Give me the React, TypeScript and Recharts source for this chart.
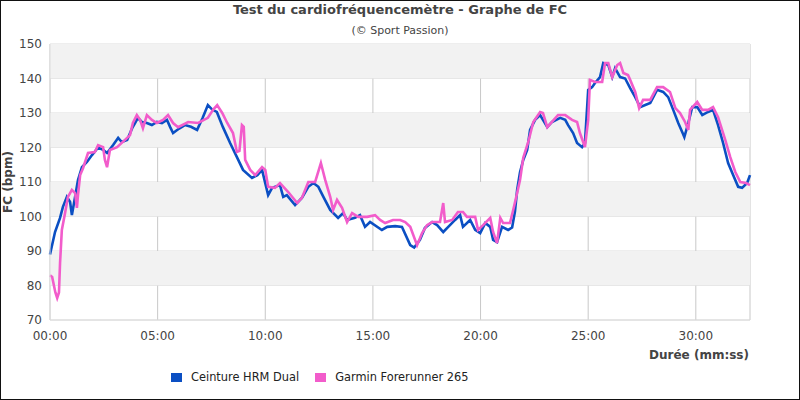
import {
  CartesianGrid,
  Legend,
  Line,
  LineChart,
  ReferenceArea,
  XAxis,
  YAxis,
} from "recharts";

// time in seconds, heart rate in bpm
const blueTimes = [
  0, 14, 28, 36, 47, 56, 61, 70, 78, 89, 103, 117, 134, 148, 159, 176, 190, 200,
  215, 229, 237, 245, 256, 270, 284, 298, 312, 326, 335, 343, 360, 376, 393, 410,
  425, 440, 452, 465, 482, 502, 521, 538, 563, 578, 591, 608, 619, 641, 650, 660,
  683, 702, 720, 734, 748, 762, 781, 803, 817, 828, 850, 864, 878, 892, 925, 940,
  962, 981, 1004, 1015, 1031, 1045, 1065, 1079, 1096, 1110, 1129, 1143, 1151,
  1171, 1185, 1199, 1213, 1227, 1235, 1246, 1260, 1277, 1288, 1296, 1302, 1310,
  1319, 1330, 1338, 1352, 1366, 1374, 1386, 1399, 1422, 1436, 1444, 1458, 1469,
  1483, 1491, 1500, 1511, 1519, 1533, 1542, 1556, 1567, 1575, 1589, 1603, 1617,
  1631, 1645, 1659, 1673, 1692, 1709, 1723, 1737, 1751, 1762, 1768, 1779, 1790,
  1804, 1818, 1834, 1848, 1862, 1876, 1890, 1904, 1918, 1929, 1943, 1951,
];
const blueValues = [
  89, 95.5, 99.6, 102.8, 105.7, 104.2, 100.4, 105.7, 110.6, 114.3, 115.8, 117.8,
  120, 119.3, 118.4, 120.7, 122.8, 121.6, 122.2, 125.6, 127.1, 128.6, 127.4,
  127.1, 126.5, 127.4, 127.1, 128, 125.9, 124.2, 125.5, 126.5, 126, 125.1, 128.5,
  132.3, 131, 130.3, 125.9, 121.3, 117.2, 113.5, 111.2, 112, 113.5, 106.2, 108.3,
  109.1, 105.7, 106.2, 103.3, 105.4, 108.6, 109.7, 108.6, 105.7, 101.9, 99.6, 101,
  99, 99.6, 100.4, 97, 98.4, 96.1, 97, 97.2, 97, 91.7, 91, 93.2, 96.7, 98.4, 97.5,
  95.5, 97, 99, 100.4, 97, 99, 96.1, 95.2, 98.1, 97, 93.2, 92.6, 97, 96.1, 96.8,
  101.5, 107.7, 112.8, 116.4, 119.3, 125.1, 128, 129.4, 128, 125.9, 127.4, 128.6,
  128, 126.5, 124.2, 121.3, 120.1, 121.3, 136.7, 137.5, 138.7, 140.4, 144.5,
  143.9, 140.4, 143, 140.4, 140, 137.2, 134.6, 131.7, 132.3, 132.9, 136.7, 136.1,
  134.6, 130.9, 127.1, 124.5, 123, 127.1, 131.7, 131.7, 129.4, 130.3, 130.9,
  126.5, 121.3, 115.5, 112, 108.6, 108.3, 109.7, 112,
];

const pinkTimes = [
  0, 6, 15, 20, 25, 28, 33, 42, 50, 61, 70, 75, 78, 84, 92, 106, 125, 134, 148,
  153, 159, 167, 187, 209, 223, 231, 242, 251, 259, 270, 284, 298, 315, 329, 343,
  357, 385, 413, 440, 455, 466, 480, 494, 510, 521, 528, 535, 540, 544, 558, 572,
  591, 600, 608, 627, 641, 664, 689, 702, 720, 739, 755, 767, 781, 789, 800, 814,
  828, 842, 859, 884, 906, 920, 934, 956, 976, 990, 1004, 1023, 1037, 1051, 1065,
  1087, 1096, 1101, 1121, 1137, 1151, 1162, 1185, 1193, 1207, 1227, 1235, 1246,
  1255, 1263, 1282, 1291, 1302, 1310, 1319, 1333, 1347, 1366, 1374, 1386, 1399,
  1416, 1436, 1455, 1469, 1477, 1491, 1500, 1505, 1519, 1539, 1547, 1556, 1567,
  1581, 1589, 1598, 1611, 1617, 1631, 1642, 1653, 1673, 1692, 1709, 1728, 1743,
  1756, 1770, 1779, 1784, 1804, 1818, 1834, 1848, 1862, 1882, 1896, 1910, 1924,
  1940, 1951,
];
const pinkValues = [
  83, 82.5, 78, 76.4, 78, 86.5, 96.1, 101, 105.7, 107.7, 106.8, 102.5, 106.2, 112,
  114, 118.4, 118.7, 120.7, 120.1, 116.4, 114.3, 119.3, 120.1, 122.2, 123.6,
  127.1, 129.4, 128, 125.6, 129.4, 128, 127.1, 128, 129.4, 127.1, 125.9, 127.4,
  127.1, 128.6, 131, 132.3, 130, 127.1, 124.2, 118.7, 119, 126.5, 126, 116.4,
  113.5, 112, 114.3, 113.5, 108.6, 108.3, 109.7, 107.1, 103.9, 105.4, 110, 110,
  115.5, 110.6, 105.7, 101.9, 104.8, 102.5, 98.4, 101, 99.9, 99.9, 100.4, 99,
  98.1, 99, 99, 98.4, 97, 91.7, 95.2, 97.5, 98.4, 98.4, 103.9, 98.4, 99, 101.3,
  101.3, 99.9, 99.9, 96.1, 97.5, 99.6, 95.5, 92.3, 99.6, 98.1, 98.1, 101.9, 106.8,
  110.6, 117, 121.6, 127.4, 130.3, 130, 125.9, 127.4, 129.4, 129.4, 128, 127.4,
  124.2, 120.1, 128, 139.6, 139, 139, 144.5, 144.5, 140.4, 143.9, 144.5, 141.6,
  141, 139.6, 136.1, 131.4, 133.8, 133.8, 137.5, 137.5, 136.1, 131.4, 130, 127.4,
  125.1, 130.9, 133.2, 130.9, 130.9, 131.7, 128.8, 122.2, 117.2, 112.9, 110,
  109.7, 109.1,
];

const seriesNames = ["Ceinture HRM Dual", "Garmin Forerunner 265"];
const yTicks = [70, 80, 90, 100, 110, 120, 130, 140, 150];
const xTicks = [0, 300, 600, 900, 1200, 1500, 1800];
const endSeconds = 1951;

const BLUE = "#0b4fc3";
const PINK = "#f25ccb";
const FONT = "'DejaVu Sans', sans-serif";
const TEXT = "#444";

const blueData = blueTimes.map((t, i) => ({ t, v: blueValues[i] }));
const pinkData = pinkTimes.map((t, i) => ({ t, v: pinkValues[i] }));

// shaded every other band, 80-90, 100-110, ...
const bands = yTicks
  .slice(0, -1)
  .map((lo, i) => ({ lo, hi: yTicks[i + 1], shaded: i % 2 === 1 }))
  .filter((b) => b.shaded);

function mmss(sec: number): string {
  const m = Math.floor(sec / 60);
  const s = Math.round(sec % 60);
  return `${String(m).padStart(2, "0")}:${String(s).padStart(2, "0")}`;
}

function LegendContent({ payload }: { payload?: Array<{ value: string; color: string }> }) {
  if (!payload) return null;
  return (
    <div style={{ display: "flex", alignItems: "center", fontFamily: FONT, fontSize: 11.4, color: "#222" }}>
      {payload.map((p) => (
        <div key={p.value} style={{ display: "flex", alignItems: "center", marginRight: 16 }}>
          <span style={{ width: 11, height: 9, background: p.color, marginRight: 9, display: "inline-block" }} />
          <span>{p.value}</span>
        </div>
      ))}
    </div>
  );
}

export default function App() {
  return (
    <div
      style={{
        position: "absolute",
        left: 0,
        top: 0,
        width: 800,
        height: 400,
        background: "#fff",
        fontFamily: FONT,
      }}
    >
      <div
        style={{
          position: "absolute",
          top: 2,
          width: 800,
          textAlign: "center",
          fontWeight: "bold",
          fontSize: 13,
          color: TEXT,
        }}
      >
        Test du cardiofréquencemètre - Graphe de FC
      </div>
      <div
        style={{
          position: "absolute",
          top: 24,
          width: 800,
          textAlign: "center",
          fontSize: 11,
          color: TEXT,
        }}
      >
        (© Sport Passion)
      </div>
      <LineChart
        width={800}
        height={400}
        margin={{ top: 44, right: 50, bottom: 35, left: 0 }}
      >
        {bands.map((b) => (
          <ReferenceArea
            key={b.lo}
            y1={b.lo}
            y2={b.hi}
            fill="#f2f2f2"
            fillOpacity={1}
            stroke="none"
          />
        ))}
        <CartesianGrid horizontal={true} vertical={false} stroke="#dcdcdc" />
        <CartesianGrid horizontal={false} vertical={true} stroke="#c8c8c8" />
        <XAxis
          dataKey="t"
          type="number"
          domain={[0, endSeconds]}
          ticks={xTicks}
          tickFormatter={mmss}
          allowDuplicatedCategory={false}
          height={45}
          tickLine={false}
          tickMargin={5}
          axisLine={{ stroke: "#dcdcdc" }}
          tick={{ fill: TEXT, fontSize: 12, fontFamily: FONT }}
          label={{
            value: "Durée (mm:ss)",
            position: "insideBottomRight",
            offset: 0,
            dx: -1,
            dy: -6,
            style: { fill: TEXT, fontSize: 12, fontWeight: "bold", fontFamily: FONT },
          }}
        />
        <YAxis
          dataKey="v"
          domain={[70, 150]}
          ticks={yTicks}
          width={50}
          tickLine={false}
          axisLine={{ stroke: "#dcdcdc" }}
          tick={{ fill: TEXT, fontSize: 12, fontFamily: FONT }}
          label={{
            value: "FC (bpm)",
            angle: -90,
            position: "insideLeft",
            offset: 0,
            dx: 8,
            style: { fill: TEXT, fontSize: 12, fontWeight: "bold", fontFamily: FONT, textAnchor: "middle" },
          }}
        />
        <YAxis
          yAxisId="right"
          orientation="right"
          domain={[70, 150]}
          width={0}
          tick={false}
          tickLine={false}
          axisLine={{ stroke: "#dcdcdc" }}
        />
        <Legend
          layout="horizontal"
          verticalAlign="middle"
          align="center"
          wrapperStyle={{ top: 370, left: 171, width: 400 }}
          content={<LegendContent />}
        />
        <Line
          data={blueData}
          dataKey="v"
          name={seriesNames[0]}
          stroke={BLUE}
          strokeWidth={2.6}
          dot={false}
          type="linear"
          isAnimationActive={false}
        />
        <Line
          data={pinkData}
          dataKey="v"
          name={seriesNames[1]}
          stroke={PINK}
          strokeWidth={2.6}
          dot={false}
          type="linear"
          isAnimationActive={false}
        />
      </LineChart>
      <div
        style={{
          position: "absolute",
          inset: 0,
          border: "1px solid #111",
          pointerEvents: "none",
        }}
      />
    </div>
  );
}
